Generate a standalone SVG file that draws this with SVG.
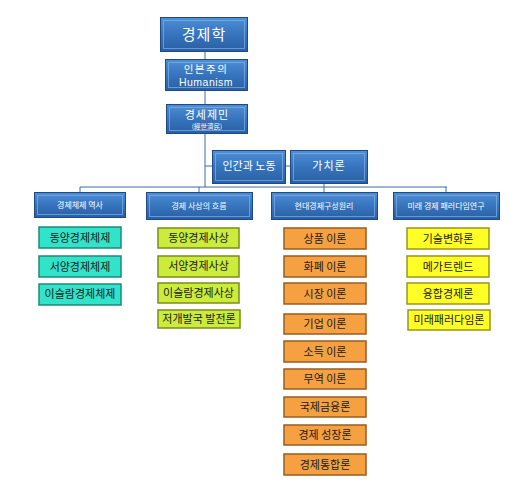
<svg xmlns="http://www.w3.org/2000/svg" width="520" height="502" viewBox="0 0 520 502">
<defs>
<linearGradient id="bg" x1="0" y1="0" x2="0" y2="1">
<stop offset="0" stop-color="#4f8fd6"/>
<stop offset="0.5" stop-color="#3674bd"/>
<stop offset="1" stop-color="#2a5fa3"/>
</linearGradient>
<style>
.blue rect.o{fill:url(#bg);stroke:#1d4a85;stroke-width:1}
.blue rect.i{fill:none;stroke:#7fb0e8;stroke-width:1;opacity:0.7}
.blue text{fill:#ffffff;font-family:"Noto Sans CJK KR","Liberation Sans",sans-serif;text-anchor:middle}
.leaf text{fill:#1a1a1a;font-family:"Noto Sans CJK KR","Liberation Sans",sans-serif;text-anchor:middle;font-size:11px}
.teal rect{fill:#30e3c9;stroke:#1e8a7a;stroke-width:1.5}
.lime rect{fill:#cbec3a;stroke:#7c8c1c;stroke-width:1.5}
.orange rect{fill:#f5a142;stroke:#9a5c1e;stroke-width:1.5}
.yellow rect{fill:#ffff26;stroke:#9c951c;stroke-width:1.5}
#connectors line{stroke:#3a6aa0;stroke-width:1}
</style>
</defs>
<rect width="520" height="502" fill="#ffffff"/>
<g id="connectors">
<line x1="205" y1="52" x2="205" y2="59"/>
<line x1="205" y1="90" x2="205" y2="105"/>
<line x1="205" y1="133" x2="205" y2="187"/>
<line x1="205" y1="166" x2="212" y2="166"/>
<line x1="285" y1="166" x2="290" y2="166"/>
<line x1="80" y1="187" x2="447" y2="187"/>
<line x1="80" y1="187" x2="80" y2="193"/>
<line x1="199" y1="187" x2="199" y2="193"/>
<line x1="324" y1="183" x2="324" y2="193"/>
<line x1="446" y1="187" x2="446" y2="193"/>
</g>
<g id="n-gyeongjehak" class="blue">
<rect class="o" x="160.5" y="17.5" width="87" height="34"/>
<rect class="i" x="163.5" y="20.5" width="81" height="28"/>
<text x="204" y="40" font-size="15" letter-spacing="1">경제학</text>
</g>
<g id="n-humanism" class="blue">
<rect class="o" x="165.5" y="59.5" width="82" height="31"/>
<rect class="i" x="168.5" y="62.5" width="76" height="25"/>
<text x="206" y="73" font-size="10.5" letter-spacing="1.5">인본주의</text>
<text x="206" y="86" font-size="10.5" font-family="Liberation Sans, sans-serif" style="font-family:'Liberation Sans',sans-serif" letter-spacing="0.5">Humanism</text>
</g>
<g id="n-gyeongsejemin" class="blue">
<rect class="o" x="166.5" y="104.5" width="81" height="29"/>
<rect class="i" x="169.5" y="107.5" width="75" height="23"/>
<text x="207" y="119" font-size="11" letter-spacing="1">경세제민</text>
<text x="207" y="129" font-size="6.5">(經世濟民)</text>
</g>
<g id="n-labor" class="blue">
<rect class="o" x="212.5" y="150.5" width="73" height="33"/>
<rect class="i" x="215.5" y="153.5" width="67" height="27"/>
<text x="249" y="170" font-size="11">인간과 노동</text>
</g>
<g id="n-value" class="blue">
<rect class="o" x="290.5" y="150.5" width="77" height="33"/>
<rect class="i" x="293.5" y="153.5" width="71" height="27"/>
<text x="329" y="170" font-size="11" letter-spacing="1">가치론</text>
</g>
<g id="n-system-history" class="blue">
<rect class="o" x="34.5" y="192.5" width="91" height="25"/>
<rect class="i" x="37.5" y="195.5" width="85" height="19"/>
<text x="80" y="208" font-size="8">경제체제 역사</text>
</g>
<g id="n-thought" class="blue">
<rect class="o" x="146.5" y="192.5" width="106" height="27"/>
<rect class="i" x="149.5" y="195.5" width="100" height="21"/>
<text x="199" y="209" font-size="8">경제 사상의 흐름</text>
</g>
<g id="n-modern" class="blue">
<rect class="o" x="271.5" y="192.5" width="106" height="27"/>
<rect class="i" x="274.5" y="195.5" width="100" height="21"/>
<text x="324" y="209" font-size="8">현대경제구성원리</text>
</g>
<g id="n-future" class="blue">
<rect class="o" x="393.5" y="192.5" width="106" height="27"/>
<rect class="i" x="396.5" y="195.5" width="100" height="21"/>
<text x="446" y="209" font-size="8">미래 경제 패러다임연구</text>
</g>
<g id="n-t1" class="leaf teal"><rect x="39" y="227" width="82" height="21"/><text x="80" y="242">동양경제체제</text></g>
<g id="n-t2" class="leaf teal"><rect x="39" y="256" width="82" height="21"/><text x="80" y="271">서양경제체제</text></g>
<g id="n-t3" class="leaf teal"><rect x="39" y="284" width="82" height="21"/><text x="80" y="298" font-size="9">이슬람경제체제</text></g>
<g id="n-l1" class="leaf lime"><rect x="158" y="228" width="81" height="20"/><text x="198.5" y="242">동양경제사상</text></g>
<g id="n-l2" class="leaf lime"><rect x="158" y="256" width="81" height="21"/><text x="198.5" y="270">서양경제사상</text></g>
<g id="n-l3" class="leaf lime"><rect x="158" y="283" width="81" height="20"/><text x="198.5" y="297" font-size="9">이슬람경제사상</text></g>
<g id="n-l4" class="leaf lime"><rect x="158" y="310" width="82" height="18"/><text x="199" y="323" font-size="9">저개발국 발전론</text></g>
<g id="n-o1" class="leaf orange"><rect x="284" y="228" width="82" height="21"/><text x="325" y="243">상품 이론</text></g>
<g id="n-o2" class="leaf orange"><rect x="284" y="256" width="82" height="21"/><text x="325" y="271">화폐 이론</text></g>
<g id="n-o3" class="leaf orange"><rect x="284" y="283" width="82" height="21"/><text x="325" y="298">시장 이론</text></g>
<g id="n-o4" class="leaf orange"><rect x="284" y="314" width="82" height="20"/><text x="325" y="328">기업 이론</text></g>
<g id="n-o5" class="leaf orange"><rect x="284" y="341" width="82" height="21"/><text x="325" y="356">소득 이론</text></g>
<g id="n-o6" class="leaf orange"><rect x="284" y="369" width="82" height="20"/><text x="325" y="383">무역 이론</text></g>
<g id="n-o7" class="leaf orange"><rect x="284" y="397" width="82" height="20"/><text x="325" y="411">국제금융론</text></g>
<g id="n-o8" class="leaf orange"><rect x="284" y="425" width="82" height="20"/><text x="325" y="439">경제 성장론</text></g>
<g id="n-o9" class="leaf orange"><rect x="284" y="454" width="82" height="21"/><text x="325" y="469">경제통합론</text></g>
<g id="n-y1" class="leaf yellow"><rect x="407" y="228" width="82" height="21"/><text x="448" y="243">기술변화론</text></g>
<g id="n-y2" class="leaf yellow"><rect x="407" y="256" width="82" height="21"/><text x="448" y="271">메가트렌드</text></g>
<g id="n-y3" class="leaf yellow"><rect x="407" y="283" width="82" height="21"/><text x="448" y="298">융합경제론</text></g>
<g id="n-y4" class="leaf yellow"><rect x="408" y="310" width="82" height="20"/><text x="449" y="324" font-size="10">미래패러다임론</text></g>
</svg>
